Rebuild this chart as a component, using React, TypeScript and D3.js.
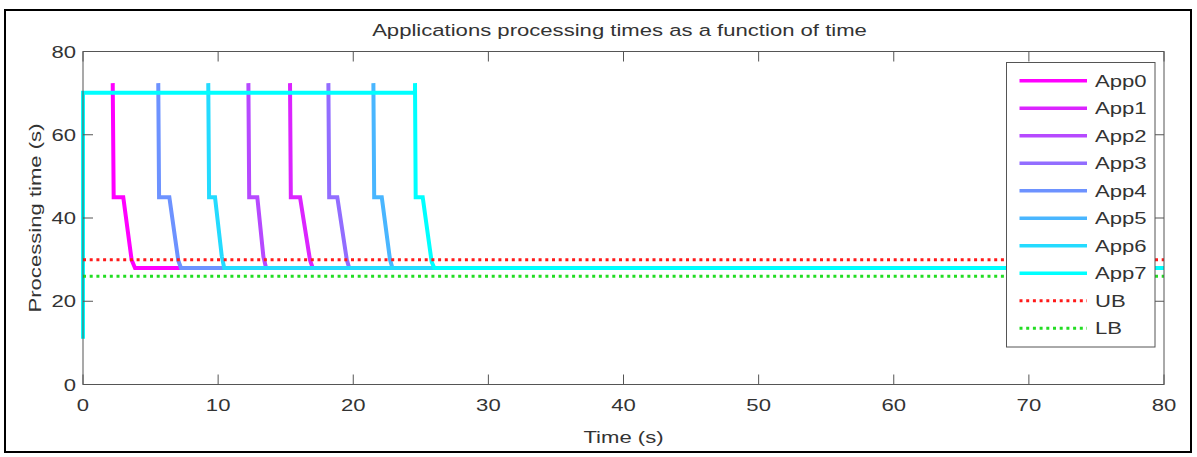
import React from "react";
import * as d3 from "d3";

// ---- data ----
const appNames = ["App0", "App1", "App2", "App3", "App4", "App5", "App6", "App7"];
// MATLAB "cool" map, reversed: App0 magenta ... App7 cyan
const appColors = ["#ff00ff", "#db24ff", "#b649ff", "#926dff", "#6d92ff", "#49b6ff", "#24dbff", "#00ffff"];

const app0 = [[2.2, 72.4], [2.27, 45], [2.98, 45], [3.6, 29.9], [3.85, 28], [80, 28]];
const app1 = [[15.32, 72.4], [15.38, 45], [16.06, 45], [16.8, 29.9], [17.0, 28], [80, 28]];
const app2 = [[12.24, 72.4], [12.3, 45], [12.9, 45], [13.35, 30.7], [13.55, 28], [80, 28]];
const app3 = [[18.16, 72.4], [18.22, 45], [18.82, 45], [19.52, 30], [19.7, 28], [80, 28]];
const app4 = [[5.57, 72.4], [5.63, 45], [6.39, 45], [7.05, 29.8], [7.25, 28], [80, 28]];
const app5 = [[21.49, 72.4], [21.55, 45], [22.11, 45], [22.72, 30], [22.9, 28], [80, 28]];
const app6 = [[9.27, 72.4], [9.33, 45], [9.77, 45], [10.27, 30.8], [10.45, 28], [80, 28]];
const app7 = [[0, 11], [0, 70.1], [24.57, 70.1], [24.57, 72.4], [24.62, 45], [25.14, 45], [25.8, 29.5], [26.0, 28], [80, 28]];
const appSeries = [app0, app1, app2, app3, app4, app5, app6, app7];

const upperBound = 30;
const lowerBound = 26;

const xTicks = [0, 10, 20, 30, 40, 50, 60, 70, 80];
const yTicks = [0, 20, 40, 60, 80];

const FONT = "'Liberation Sans', Arial, Helvetica, sans-serif";
const TXT = "#333";
const SX = 1.3; // the figure's text is set wide

function Txt({ x, y, anchor = "start", size = 17, rotate = 0, children }: any) {
	return (
		<text
			transform={`translate(${x},${y}) rotate(${rotate}) scale(${SX},1)`}
			textAnchor={anchor}
			fontSize={size}
			fontFamily={FONT}
			fill={TXT}
		>
			{children}
		</text>
	);
}

export default function App() {
	const width = 1197;
	const height = 457;

	// ---- Scales ----
	const x = d3.scaleLinear().domain([0, 80]).range([83, 1164]);
	const y = d3.scaleLinear().domain([0, 80]).range([384.5, 51.5]);

	const line = d3
		.line<number[]>()
		.x((d) => x(d[0]))
		.y((d) => y(d[1]));

	const [x0, x1] = x.range();
	const [y0, y1] = y.range();
	const tick = 10;

	// ---- Legend layout ----
	const legend = { x: 1006.5, y: 62.5, w: 148.5, h: 284.5 };
	const rowY = (i: number) => 80.8 + i * 27.5;
	const legendItems = [
		...appNames.map((n, i) => ({ name: n, color: appColors[i], dotted: false })),
		{ name: "UB", color: "#ff1a1a", dotted: true },
		{ name: "LB", color: "#22dd22", dotted: true },
	];

	return (
		<svg width={width} height={height} style={{ position: "absolute", left: 0, top: 0, background: "#fff" }}>
			{/* outer frame */}
			<rect x={5} y={10} width={1186} height={442} fill="#fff" stroke="#000" strokeWidth={2} />

			{/* title */}
			<Txt x={(x0 + x1) / 2 - 4} y={36} anchor="middle">
				Applications processing times as a function of time
			</Txt>

			{/* ---- App lines ---- */}
			<g fill="none" strokeWidth={4} strokeLinejoin="miter">
				{appSeries.map((s, i) => (
					<path key={appNames[i]} d={line(s) || ""} stroke={appColors[i]} />
				))}
			</g>

			{/* ---- Bounds ---- */}
			<line x1={x0} x2={x1} y1={y(upperBound)} y2={y(upperBound)} stroke="#ff1a1a" strokeWidth={3} strokeDasharray="3 3.7" />
			<line x1={x0} x2={x1} y1={y(lowerBound)} y2={y(lowerBound)} stroke="#22dd22" strokeWidth={3} strokeDasharray="3 3.7" />

			{/* ---- Axes box + ticks ---- */}
			<rect x={x0} y={y1} width={x1 - x0} height={y0 - y1} fill="none" stroke="#555" strokeWidth={1} />
			{xTicks.map((t) => (
				<g key={"x" + t}>
					<line x1={x(t)} x2={x(t)} y1={y0} y2={y0 - tick} stroke="#555" />
					<line x1={x(t)} x2={x(t)} y1={y1} y2={y1 + tick} stroke="#555" />
					<Txt x={x(t)} y={411} anchor="middle">
						{t}
					</Txt>
				</g>
			))}
			{yTicks.map((t) => (
				<g key={"y" + t}>
					<line x1={x0} x2={x0 + tick} y1={y(t)} y2={y(t)} stroke="#555" />
					<line x1={x1} x2={x1 - tick} y1={y(t)} y2={y(t)} stroke="#555" />
					<Txt x={76} y={y(t) + 6} anchor="end">
						{t}
					</Txt>
				</g>
			))}

			{/* ---- Axis labels ---- */}
			<Txt x={(x0 + x1) / 2} y={443} anchor="middle">
				Time (s)
			</Txt>
			<Txt x={41} y={218} anchor="middle" rotate={-90}>
				Processing time (s)
			</Txt>

			{/* ---- Legend ---- */}
			<rect x={legend.x} y={legend.y} width={legend.w} height={legend.h} fill="#fff" stroke="#555" strokeWidth={1} />
			{legendItems.map((d, i) => (
				<g key={d.name}>
					<line
						x1={1019.5}
						x2={1087}
						y1={rowY(i)}
						y2={rowY(i)}
						stroke={d.color}
						strokeWidth={d.dotted ? 3 : 3.5}
						strokeDasharray={d.dotted ? "3 3.7" : undefined}
					/>
					<Txt x={1095} y={rowY(i) + 6}>
						{d.name}
					</Txt>
				</g>
			))}
		</svg>
	);
}
